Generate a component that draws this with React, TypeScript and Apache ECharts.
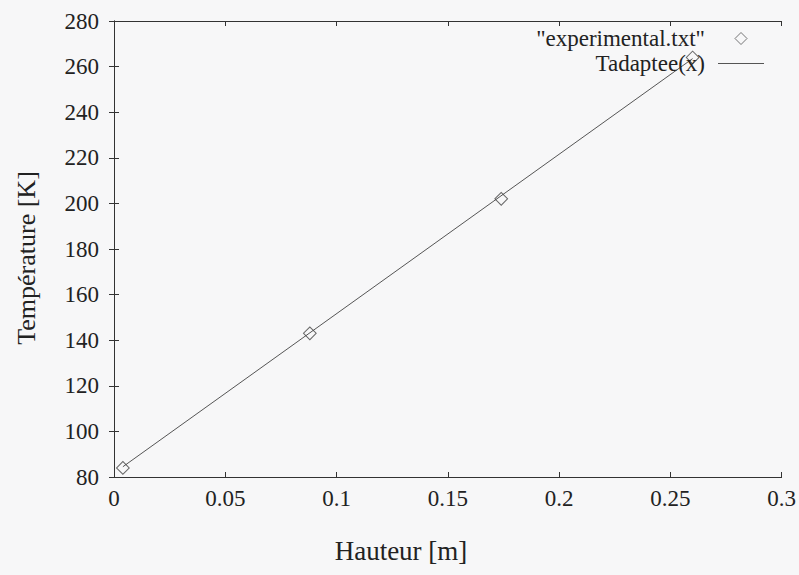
import React, { useEffect, useRef } from "react";
import * as echarts from "echarts";

const hauteur = [0.004, 0.088, 0.174, 0.26];
const temperature = [84, 143, 202, 264];
const fitX = [0.004, 0.26];
const fitY = [84.5, 263.5];
const xTicks = [0, 0.05, 0.1, 0.15, 0.2, 0.25, 0.3];
const yTicks = [80, 100, 120, 140, 160, 180, 200, 220, 240, 260, 280];
const xTitle = "Hauteur [m]";
const yTitle = "Température [K]";

const FONT = "Liberation Serif";

export default function App() {
  const ref = useRef<HTMLDivElement>(null);
  useEffect(() => {
    if (!ref.current) return;
    const chart = echarts.init(ref.current, undefined, { renderer: "svg" });
    const axisLine = { show: true, lineStyle: { color: "#333", width: 1 } };
    const tick = { show: true, inside: true, length: 5, lineStyle: { color: "#333" } };
    chart.setOption({
      animation: false,
      backgroundColor: "#f7f7f8",
      textStyle: { fontFamily: FONT },
      grid: { left: 114, top: 21, right: 13, bottom: 98 },
      legend: {
        orient: "vertical",
        right: 30,
        top: 22,
        align: "right",
        itemGap: 2,
        itemWidth: 46,
        itemHeight: 12,
        textStyle: {
          fontFamily: FONT,
          fontSize: 23,
          color: "#222",
          padding: [0, 8, 0, 0],
        },
        data: [
          { name: '"experimental.txt"', icon: "path://M5,0 L10,5 L5,10 L0,5 Z", itemStyle: { color: "none", borderColor: "#555", borderWidth: 1 } },
          { name: "Tadaptee(x)", icon: "path://M0,0 L46,0 L46,1 L0,1 Z", itemStyle: { color: "#555", borderWidth: 0 } },
        ],
      },
      graphic: [
        {
          type: "text",
          x: 401,
          y: 551,
          style: { text: xTitle, fontFamily: FONT, fontSize: 27, fill: "#222", align: "center", verticalAlign: "middle" },
        },
        {
          type: "text",
          x: 26,
          y: 258,
          rotation: Math.PI / 2,
          style: { text: yTitle, fontFamily: FONT, fontSize: 26, fill: "#222", align: "center", verticalAlign: "middle" },
        },
      ],
      xAxis: [
        {
          type: "value",
          min: 0,
          max: 0.3,
          interval: 0.05,
          position: "bottom",
          axisLine,
          axisTick: tick,
          splitLine: { show: false },
          axisLabel: {
            fontFamily: FONT,
            fontSize: 23,
            color: "#222",
            margin: 10,
            formatter: (v: number) => {
              const t = xTicks.find((x) => Math.abs(x - v) < 1e-9);
              return t === undefined ? "" : String(t);
            },
          },
        },
        {
          type: "value",
          min: 0,
          max: 0.3,
          interval: 0.05,
          position: "top",
          axisLine,
          axisTick: tick,
          splitLine: { show: false },
          axisLabel: { show: false },
        },
      ],
      yAxis: [
        {
          type: "value",
          min: 80,
          max: 280,
          interval: 20,
          position: "left",
          axisLine,
          axisTick: tick,
          splitLine: { show: false },
          axisLabel: {
            fontFamily: FONT,
            fontSize: 23,
            color: "#222",
            margin: 15,
            formatter: (v: number) => (yTicks.includes(v) ? String(v) : ""),
          },
        },
        {
          type: "value",
          min: 80,
          max: 280,
          interval: 20,
          position: "right",
          axisLine,
          axisTick: tick,
          splitLine: { show: false },
          axisLabel: { show: false },
        },
      ],
      series: [
        {
          name: '"experimental.txt"',
          type: "scatter",
          data: hauteur.map((x, i) => [x, temperature[i]]),
          symbol: "rect",
          symbolRotate: 45,
          symbolSize: 9,
          itemStyle: { color: "none", borderColor: "#444", borderWidth: 1 },
          z: 3,
        },
        {
          name: "Tadaptee(x)",
          type: "line",
          data: fitX.map((x, i) => [x, fitY[i]]),
          showSymbol: false,
          symbol: "none",
          lineStyle: { color: "#555", width: 1 },
          itemStyle: { color: "#555" },
          z: 2,
        },
      ],
    });
    return () => chart.dispose();
  }, []);
  return <div ref={ref} style={{ width: 799, height: 575, position: "absolute", left: 0, top: 0 }} />;
}
